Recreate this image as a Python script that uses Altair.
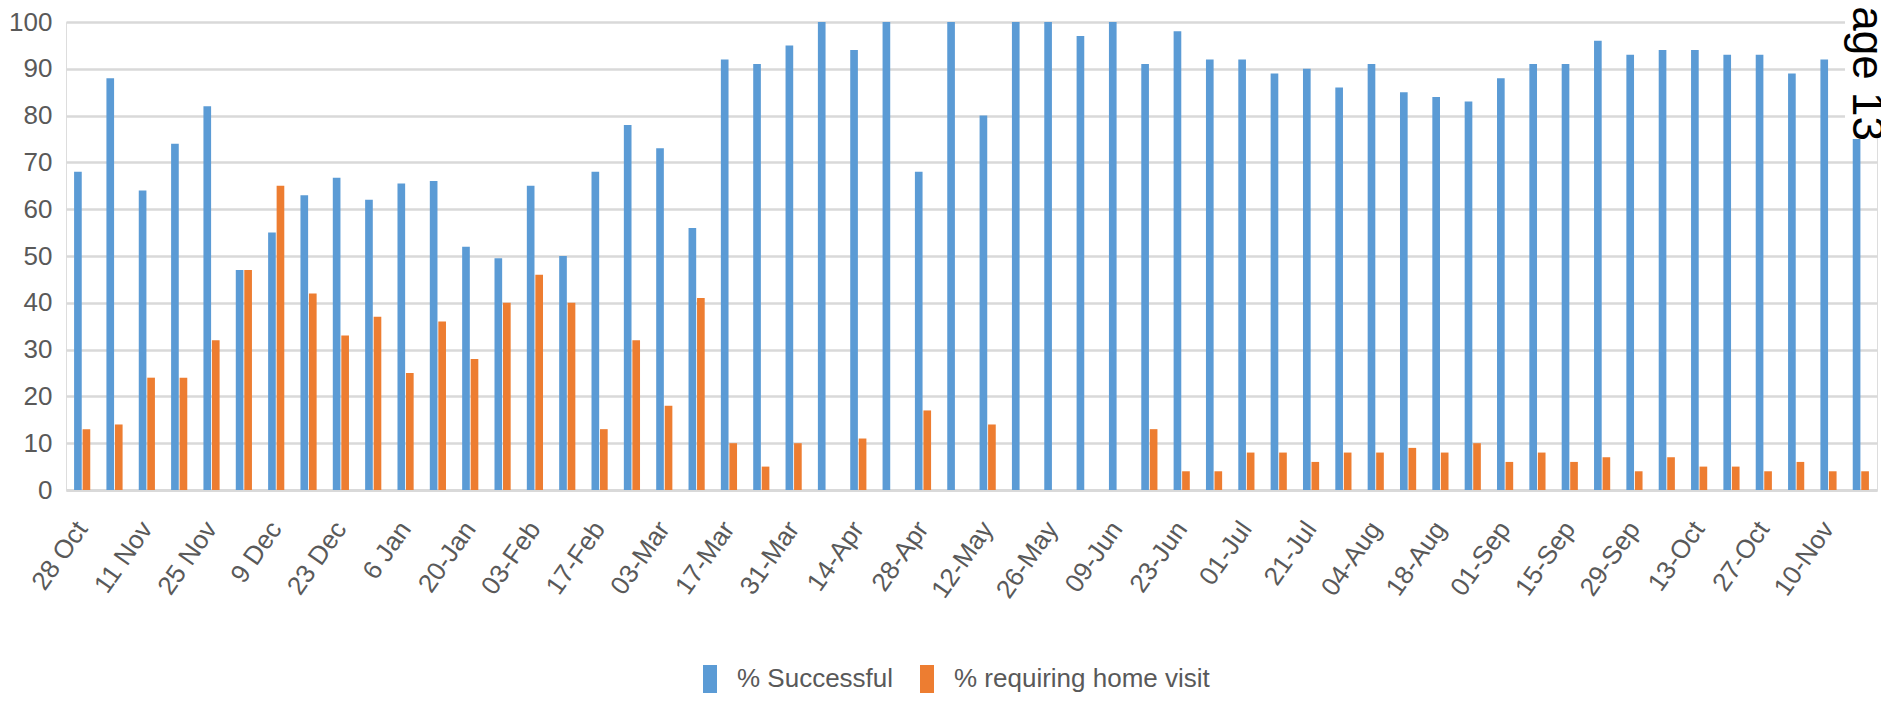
import altair as alt
import pandas as pd

dates = ["28 Oct", "4 Nov", "11 Nov", "18 Nov", "25 Nov", "2 Dec", "9 Dec", "16 Dec",
         "23 Dec", "30 Dec", "6 Jan", "13 Jan", "20-Jan", "27-Jan", "03-Feb", "10-Feb",
         "17-Feb", "24-Feb", "03-Mar", "10-Mar", "17-Mar", "24-Mar", "31-Mar", "07-Apr",
         "14-Apr", "21-Apr", "28-Apr", "05-May", "12-May", "19-May", "26-May", "02-Jun",
         "09-Jun", "16-Jun", "23-Jun", "24-Jun", "01-Jul", "14-Jul", "21-Jul", "28-Jul",
         "04-Aug", "11-Aug", "18-Aug", "25-Aug", "01-Sep", "08-Sep", "15-Sep", "22-Sep",
         "29-Sep", "06-Oct", "13-Oct", "20-Oct", "27-Oct", "03-Nov", "10-Nov", "17-Nov"]

successful = [68, 88, 64, 74, 82, 47, 55, 63, 66.7, 62,
              65.5, 66, 52, 49.5, 65, 50, 68, 78, 73, 56,
              92, 91, 95, 100, 94, 100, 68, 100, 80, 100,
              100, 97, 100, 91, 98, 92, 92, 89, 90, 86,
              91, 85, 84, 83, 88, 91, 91, 96, 93, 94,
              94, 93, 93, 89, 92, 75]

home_visit = [13, 14, 24, 24, 32, 47, 65, 42, 33, 37,
              25, 36, 28, 40, 46, 40, 13, 32, 18, 41,
              10, 5, 10, 0, 11, 0, 17, 0, 14, 0,
              0, 0, 0, 13, 4, 4, 8, 8, 6, 8,
              8, 9, 8, 10, 6, 8, 6, 7, 4, 7,
              5, 5, 4, 6, 4, 4]

series_names = ["% Successful", "% requiring home visit"]
series_colors = ["#5B9BD5", "#ED7D31"]
shown_labels = dates[::2]
y_ticks = list(range(0, 101, 10))
page_note = ["Page 13"]

rows = []
for d, s, h in zip(dates, successful, home_visit):
    rows.append({"date": d, "series": series_names[0], "value": s})
    rows.append({"date": d, "series": series_names[1], "value": h})
df = pd.DataFrame(rows)

FONT = "Liberation Sans"
GREY = "#595959"

bars = alt.Chart(df).mark_bar().encode(
    x=alt.X("date:N", sort=dates, title=None,
            scale=alt.Scale(paddingInner=0.5, paddingOuter=0.25),
            axis=alt.Axis(values=shown_labels, labelAngle=-55, labelFont=FONT,
                          labelFontSize=26, labelColor=GREY, ticks=False,
                          domainColor="#D9D9D9", domainWidth=3, labelPadding=34,
                          labelOverlap=False, labelBound=False, labelFlush=False)),
    xOffset=alt.XOffset("series:N", sort=series_names,
                        scale=alt.Scale(paddingInner=0.1)),
    y=alt.Y("value:Q", title=None,
            scale=alt.Scale(domain=[0, 100], nice=False),
            axis=alt.Axis(values=y_ticks, labelFont=FONT, labelFontSize=26,
                          labelColor=GREY, ticks=False, domain=False,
                          gridColor="#D9D9D9", gridWidth=2.5, labelPadding=14)),
    color=alt.Color("series:N", sort=series_names,
                    scale=alt.Scale(domain=series_names, range=series_colors),
                    legend=alt.Legend(title=None, orient="none", legendX=631, legendY=644,
                                      direction="horizontal", labelFont=FONT,
                                      labelFontSize=26, labelColor=GREY, labelLimit=500,
                                      symbolType="M-1,-2H1V2H-1Z", symbolSize=196,
                                      symbolStrokeWidth=0, columnPadding=20,
                                      labelOffset=14)),
)

cover = alt.Chart(pd.DataFrame({"t": page_note})).mark_rect(color="white").encode(
    x=alt.value(1779), x2=alt.value(1818), y=alt.value(-14), y2=alt.value(115)
)

note = alt.Chart(pd.DataFrame({"t": page_note})).mark_text(
    angle=90, align="left", baseline="alphabetic", fontSize=44,
    font="Liberation Sans", color="black"
).encode(x=alt.value(1787), y=alt.value(-45), text="t:N")

chart = alt.layer(bars, cover, note).properties(
    width=1811, height=468,
    autosize=alt.AutoSizeParams(type="none"),
    padding={"left": 58, "top": 14, "right": 4, "bottom": 207},
).configure_view(stroke=None).configure(background="white")

chart.save("out.html", embed_options={"renderer": "svg", "actions": False})
